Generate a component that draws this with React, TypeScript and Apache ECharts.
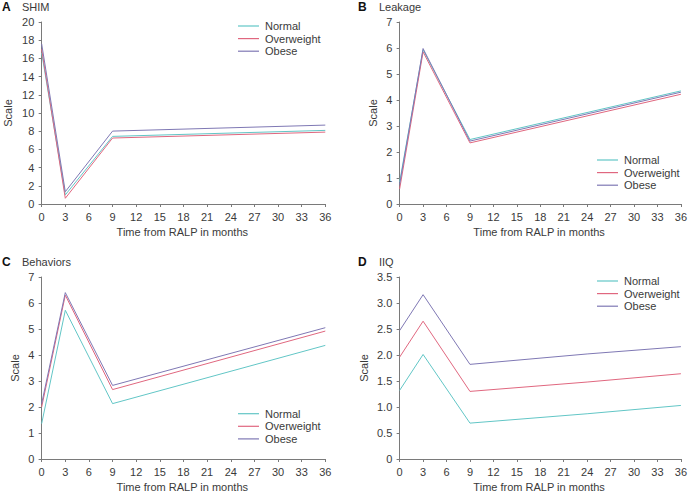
import React, { useEffect, useRef } from "react";
import * as echarts from "echarts";

const months = [0, 3, 9, 36];
const monthsIIQ = [0, 3, 9, 24, 36];
const xTicks = [0, 3, 6, 9, 12, 15, 18, 21, 24, 27, 30, 33, 36];
const groups = ["Normal", "Overweight", "Obese"];

const shimNormal = [16.6, 1.0, 7.43, 8.09];
const shimOverweight = [17.0, 0.63, 7.25, 7.9];
const shimObese = [17.6, 1.35, 8.01, 8.67];

const leakNormal = [0.85, 5.93, 2.48, 4.35];
const leakOverweight = [0.58, 5.85, 2.35, 4.22];
const leakObese = [0.75, 5.98, 2.42, 4.3];

const behNormal = [1.36, 5.72, 2.13, 4.37];
const behOverweight = [2.0, 6.3, 2.67, 4.92];
const behObese = [2.13, 6.4, 2.83, 5.05];

const iiqNormal = [1.32, 2.01, 0.69, 0.87, 1.03];
const iiqOverweight = [1.96, 2.65, 1.3, 1.48, 1.64];
const iiqObese = [2.47, 3.16, 1.82, 2.02, 2.16];

const panelLetters = ["A", "B", "C", "D"];
const panelTitles = ["SHIM", "Leakage", "Behaviors", "IIQ"];

const colors = ["#62c6c6", "#e0677f", "#7f78b4"];
const axisColor = "#7a7a7a";
const textColor = "#3a3a3a";
const font = "'Liberation Sans', Arial, sans-serif";

export default function App() {
  const ref = useRef<HTMLDivElement>(null);
  useEffect(() => {
    if (!ref.current) return;
    const chart = echarts.init(ref.current, null, { renderer: "svg" });

    const panels = [
      { x: 39.3, y: 22, ymax: 20, yint: 2, data: [shimNormal, shimOverweight, shimObese], m: months, nameGap: 25.5, legend: { left: 238, top: 19.7 }, fmt: (v: number) => String(v) },
      { x: 397.3, y: 22, ymax: 7, yint: 1, data: [leakNormal, leakOverweight, leakObese], m: months, nameGap: 19, legend: { left: 597, top: 153.7 }, fmt: (v: number) => String(v) },
      { x: 39.3, y: 277, ymax: 7, yint: 1, data: [behNormal, behOverweight, behObese], m: months, nameGap: 19, legend: { left: 238, top: 407.4 }, fmt: (v: number) => String(v) },
      { x: 397.3, y: 277, ymax: 3.5, yint: 0.5, data: [iiqNormal, iiqOverweight, iiqObese], m: monthsIIQ, nameGap: 28, legend: { left: 597, top: 274.7 }, fmt: (v: number) => (v === 0 ? "0" : v.toFixed(1)) },
    ];

    const grid: any[] = [];
    const xAxis: any[] = [];
    const yAxis: any[] = [];
    const series: any[] = [];
    const legend: any[] = [];
    const graphic: any[] = [];

    panels.forEach((p, i) => {
      grid.push({ left: p.x, top: p.y, width: 286, height: 182, containLabel: false });
      xAxis.push({
        type: "value",
        gridIndex: i,
        min: -0.3,
        max: 36,
        name: "Time from RALP in months",
        nameLocation: "middle",
        nameGap: 22,
        nameTextStyle: { color: textColor, fontSize: 11, fontFamily: font },
        axisLine: { lineStyle: { color: axisColor, width: 1 } },
        axisTick: { show: true, length: 3, lineStyle: { color: axisColor }, customValues: xTicks },
        axisLabel: { color: textColor, fontSize: 11, fontFamily: font, margin: 7, customValues: xTicks },
        splitLine: { show: false },
      });
      yAxis.push({
        type: "value",
        gridIndex: i,
        min: 0,
        max: p.ymax,
        interval: p.yint,
        name: "Scale",
        nameLocation: "middle",
        nameGap: p.nameGap,
        nameTextStyle: { color: textColor, fontSize: 11, fontFamily: font },
        axisLine: { show: true, lineStyle: { color: axisColor, width: 1 } },
        axisTick: { show: true, length: 3, lineStyle: { color: axisColor } },
        axisLabel: { color: textColor, fontSize: 11, fontFamily: font, margin: 5, formatter: p.fmt },
        splitLine: { show: false },
      });
      p.data.forEach((vals, k) => {
        series.push({
          type: "line",
          name: groups[k],
          xAxisIndex: i,
          yAxisIndex: i,
          symbol: "none",
          color: colors[k],
          lineStyle: { width: 1, color: colors[k] },
          data: p.m.map((mm, j) => [mm, vals[j]]),
        });
      });
      legend.push({
        data: groups,
        orient: "vertical",
        left: p.legend.left,
        top: p.legend.top,
        padding: 0,
        itemGap: 0,
        itemWidth: 21,
        itemHeight: 1.2,
        icon: "rect",
        selectedMode: false,
        textStyle: { color: textColor, fontSize: 11, fontFamily: font, lineHeight: 12.6, padding: [0, 0, 0, 1] },
      });
      const lx = i % 2 === 0 ? 2 : 358;
      const ty = i < 2 ? 8 : 263;
      graphic.push({
        type: "text",
        left: lx,
        top: ty - 7,
        style: { text: panelLetters[i], font: `bold 12px ${font}`, fill: "#111" },
      });
      graphic.push({
        type: "text",
        left: lx + (i % 2 === 0 ? 20 : 21),
        top: ty - 6.5,
        style: { text: panelTitles[i], font: `11px ${font}`, fill: textColor },
      });
    });

    chart.setOption({
      animation: false,
      backgroundColor: "#ffffff",
      textStyle: { fontFamily: font },
      grid,
      xAxis,
      yAxis,
      series,
      legend,
      graphic,
    });
    return () => chart.dispose();
  }, []);
  return (
    <div
      ref={ref}
      style={{ position: "fixed", left: 0, top: 0, width: 690, height: 494 }}
    />
  );
}
